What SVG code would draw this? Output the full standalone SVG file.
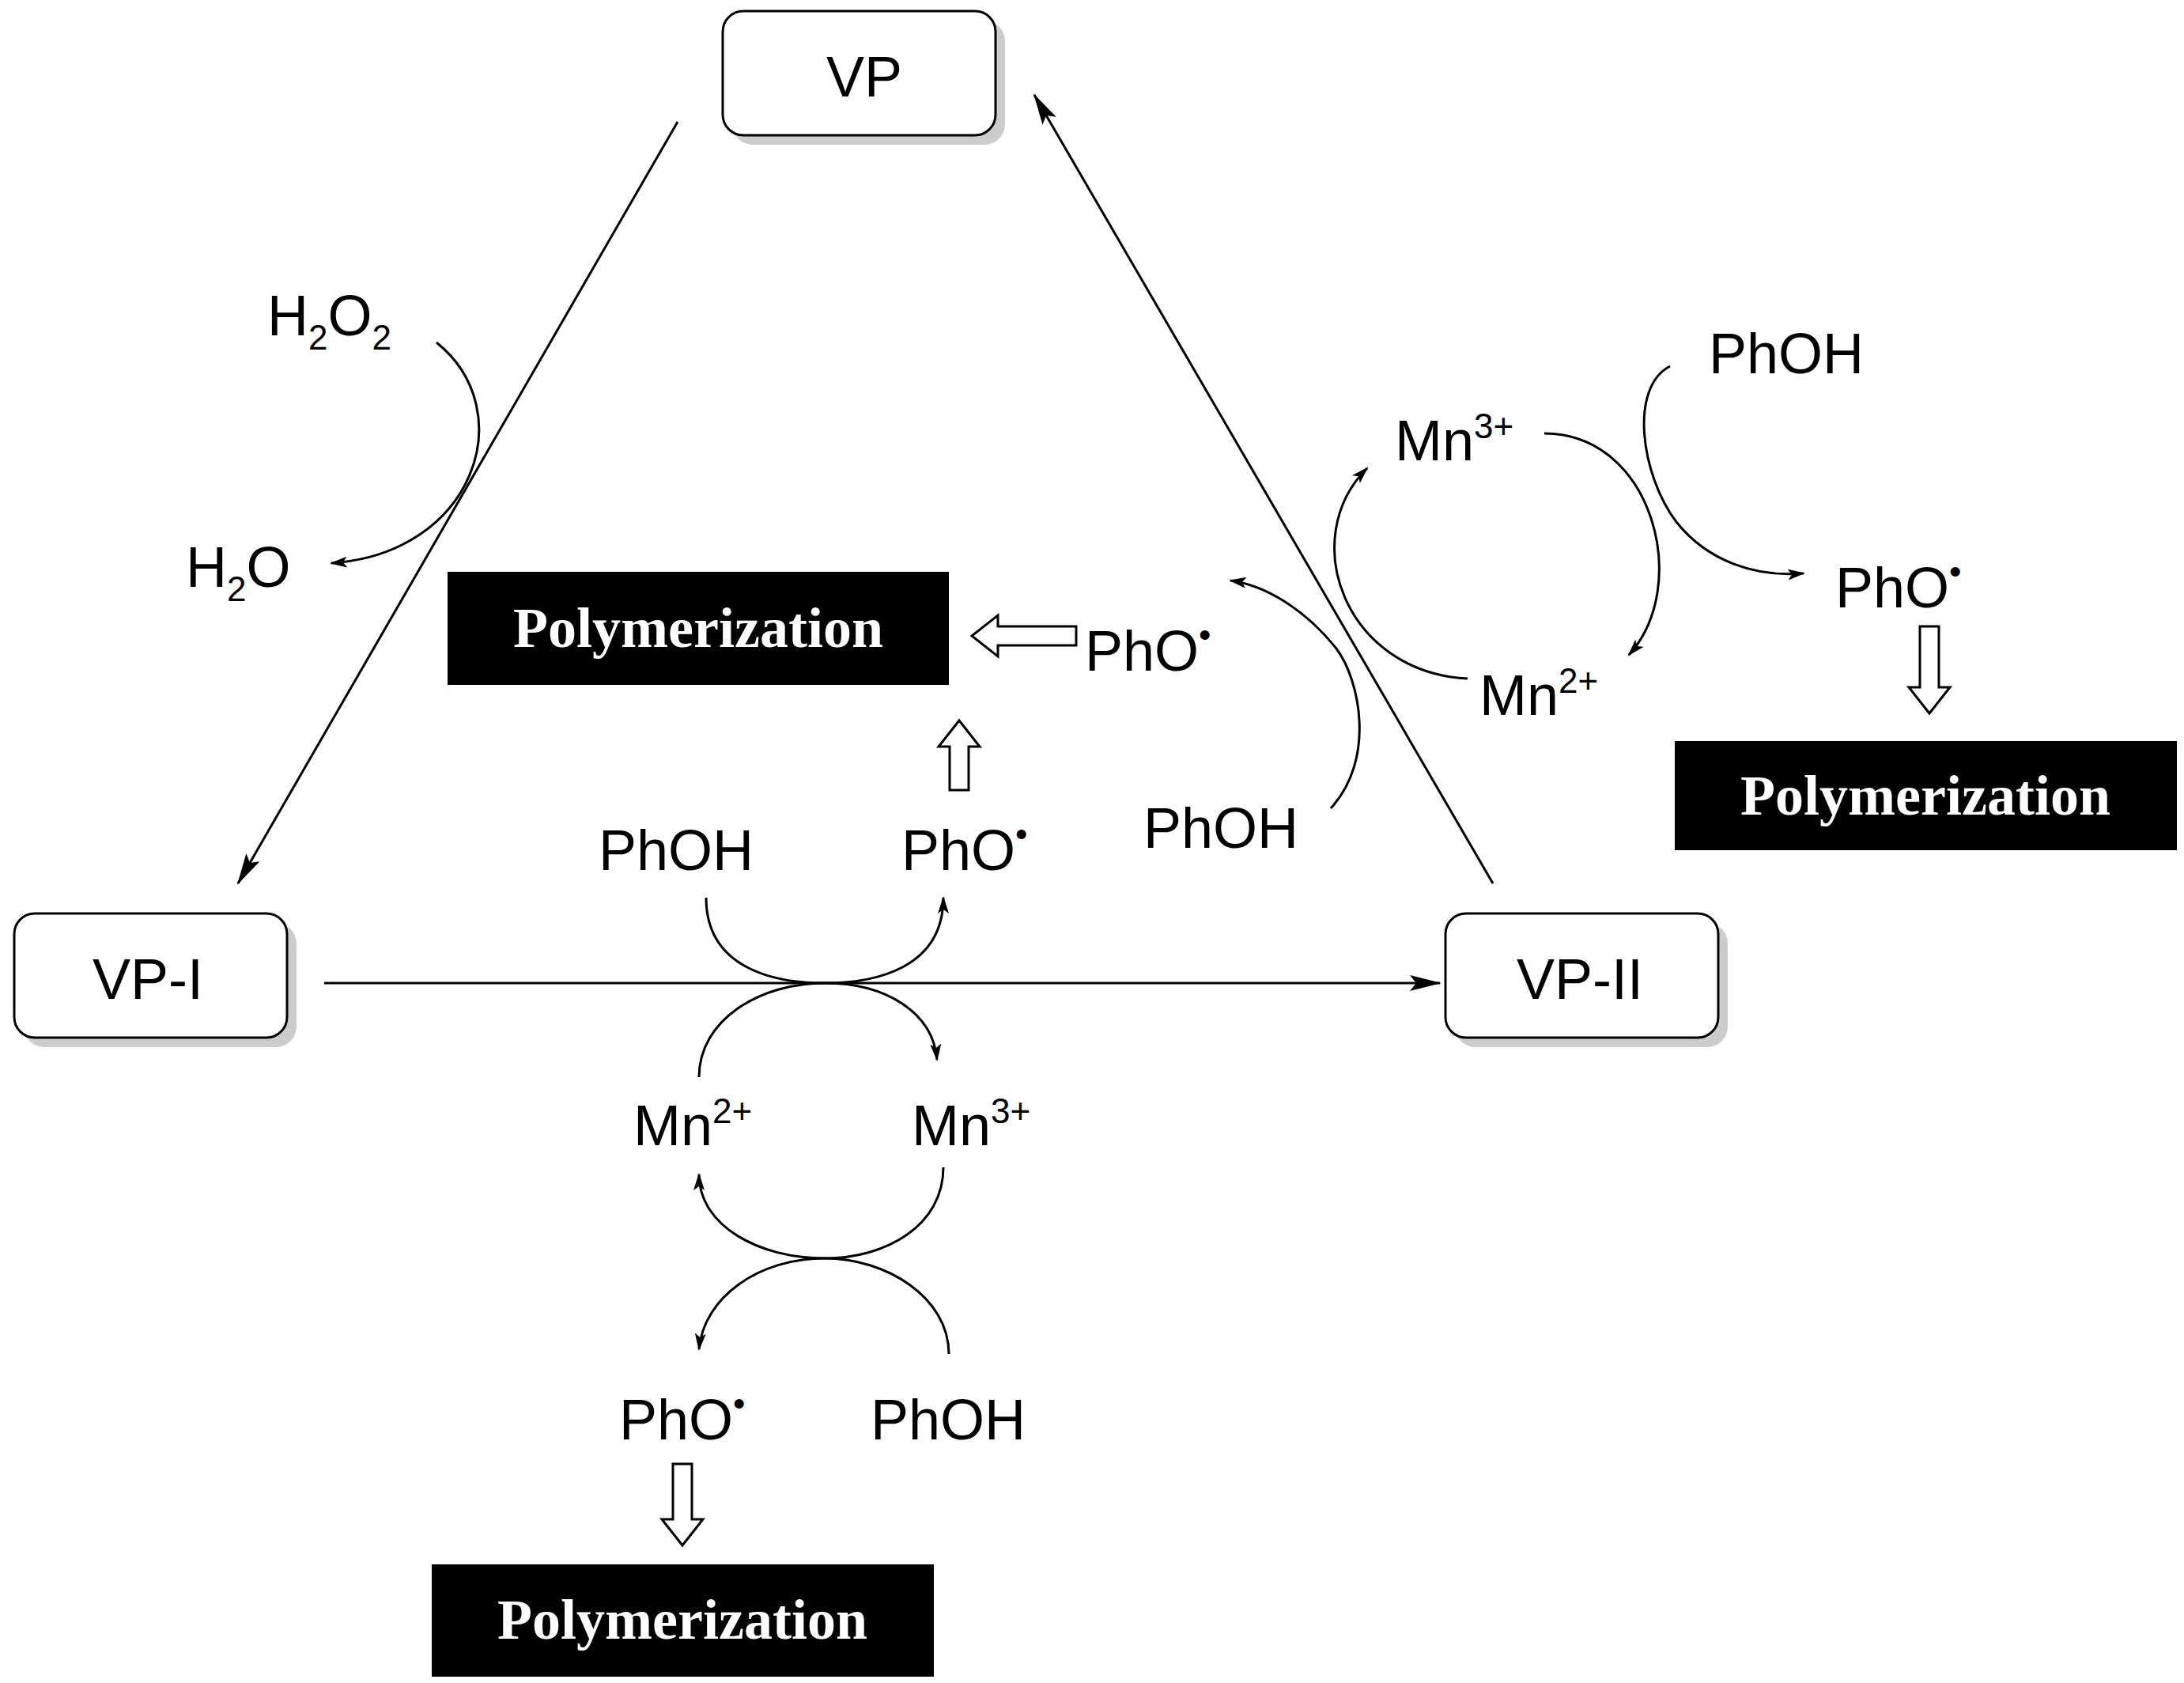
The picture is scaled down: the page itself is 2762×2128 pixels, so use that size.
<svg xmlns="http://www.w3.org/2000/svg" width="2762" height="2128" viewBox="0 0 2762 2128">
<style>
.t{font-family:"Liberation Sans",Arial,sans-serif;font-size:72px;fill:#000}
.s{font-size:44px}
.p{font-family:"Liberation Serif","Times New Roman",serif;font-weight:bold;font-size:72px;fill:#fff}
.l{fill:none;stroke:#000;stroke-width:3}
.h{fill:#fff;stroke:#000;stroke-width:3}
</style>
<defs>
<marker id="a" markerWidth="40" markerHeight="20" refX="38" refY="10" orient="auto" markerUnits="userSpaceOnUse"><path d="M0,0 L40,10 L0,20 L8,10z"/></marker>
<marker id="b" markerWidth="22" markerHeight="14" refX="20" refY="7" orient="auto" markerUnits="userSpaceOnUse"><path d="M0,0 L22,7 L0,14 L5,7z"/></marker>
</defs>
<rect width="2762" height="2128" fill="#fff"/>
<g id="VP"><rect x="926" y="26" width="345" height="157" rx="26" fill="#ccc"/><rect x="914" y="14" width="345" height="157" rx="26" class="h"/><text x="1093" y="122" class="t" text-anchor="middle">VP</text></g>
<g id="VP-I"><rect x="30" y="1167" width="345" height="157" rx="26" fill="#ccc"/><rect x="18" y="1155" width="345" height="157" rx="26" class="h"/><text x="187" y="1263" class="t" text-anchor="middle">VP-I</text></g>
<g id="VP-II"><rect x="1840" y="1167" width="345" height="157" rx="26" fill="#ccc"/><rect x="1828" y="1155" width="345" height="157" rx="26" class="h"/><text x="1998" y="1263" class="t" text-anchor="middle">VP-II</text></g>
<g id="poly1"><rect x="566" y="723" width="634" height="143"/><text x="883" y="818" class="p" text-anchor="middle">Polymerization</text></g>
<g id="poly2"><rect x="2118" y="937" width="635" height="138"/><text x="2435" y="1030" class="p" text-anchor="middle">Polymerization</text></g>
<g id="poly3"><rect x="546" y="1978" width="635" height="142"/><text x="863" y="2072" class="p" text-anchor="middle">Polymerization</text></g>
<g id="labels">
<text x="338" y="424" class="t">H<tspan class="s" dy="18">2</tspan><tspan dy="-18">O</tspan><tspan class="s" dy="18">2</tspan></text>
<text x="235" y="742" class="t">H<tspan class="s" dy="18">2</tspan><tspan dy="-18">O</tspan></text>
<text x="1372" y="848" class="t">PhO<tspan class="s" dy="-30">•</tspan></text>
<text x="757" y="1100" class="t">PhOH</text>
<text x="1140" y="1100" class="t">PhO<tspan class="s" dy="-30">•</tspan></text>
<text x="801" y="1448" class="t">Mn<tspan class="s" dy="-28">2+</tspan></text>
<text x="1153" y="1448" class="t">Mn<tspan class="s" dy="-28">3+</tspan></text>
<text x="783" y="1820" class="t">PhO<tspan class="s" dy="-30">•</tspan></text>
<text x="1101" y="1820" class="t">PhOH</text>
<text x="1764" y="582" class="t">Mn<tspan class="s" dy="-28">3+</tspan></text>
<text x="1871" y="904" class="t">Mn<tspan class="s" dy="-28">2+</tspan></text>
<text x="2161" y="472" class="t">PhOH</text>
<text x="2321" y="768" class="t">PhO<tspan class="s" dy="-30">•</tspan></text>
<text x="1446" y="1072" class="t">PhOH</text>
</g>
<g id="connectors">
<path class="l" d="M857,154 L301,1117" marker-end="url(#a)"/>
<path class="l" d="M410,1243 L1821,1243" marker-end="url(#a)"/>
<path class="l" d="M1888,1117 L1308,120" marker-end="url(#a)"/>
<path class="l" d="M552,433 C660,520 600,700 419,712" marker-end="url(#b)"/>
<path class="l" d="M893,1135 C893,1225 980,1243 1043,1243 C1106,1243 1193,1225 1193,1135" marker-end="url(#b)"/>
<path class="l" d="M884,1362 C884,1290 960,1243 1043,1243 C1120,1243 1180,1280 1185,1340" marker-end="url(#b)"/>
<path class="l" d="M1193,1476 C1193,1550 1120,1591 1043,1591 C960,1591 884,1550 884,1485" marker-end="url(#b)"/>
<path class="l" d="M1200,1712 C1200,1640 1120,1591 1043,1591 C960,1591 890,1640 884,1706" marker-end="url(#b)"/>
<path class="l" d="M1953,548 C2090,548 2140,740 2060,828" marker-end="url(#b)"/>
<path class="l" d="M1856,858 C1700,850 1640,680 1729,592" marker-end="url(#b)"/>
<path class="l" d="M2112,463 C2060,490 2075,600 2120,660 C2160,710 2220,730 2281,725" marker-end="url(#b)"/>
<path class="l" d="M1683,1022 C1740,960 1720,860 1690,820 C1650,770 1600,740 1556,734" marker-end="url(#b)"/>
<path class="h" d="M1361,792 L1262,792 L1262,778 L1229,804 L1262,830 L1262,816 L1361,816z"/>
<path class="h" d="M1201,999 L1201,944 L1187,944 L1213,911 L1239,944 L1225,944 L1225,999z"/>
<path class="h" d="M851,1851 L851,1921 L837,1921 L863,1954 L889,1921 L875,1921 L875,1851z"/>
<path class="h" d="M2428,792 L2428,869 L2414,869 L2440,902 L2466,869 L2452,869 L2452,792z"/>
</g>
</svg>
